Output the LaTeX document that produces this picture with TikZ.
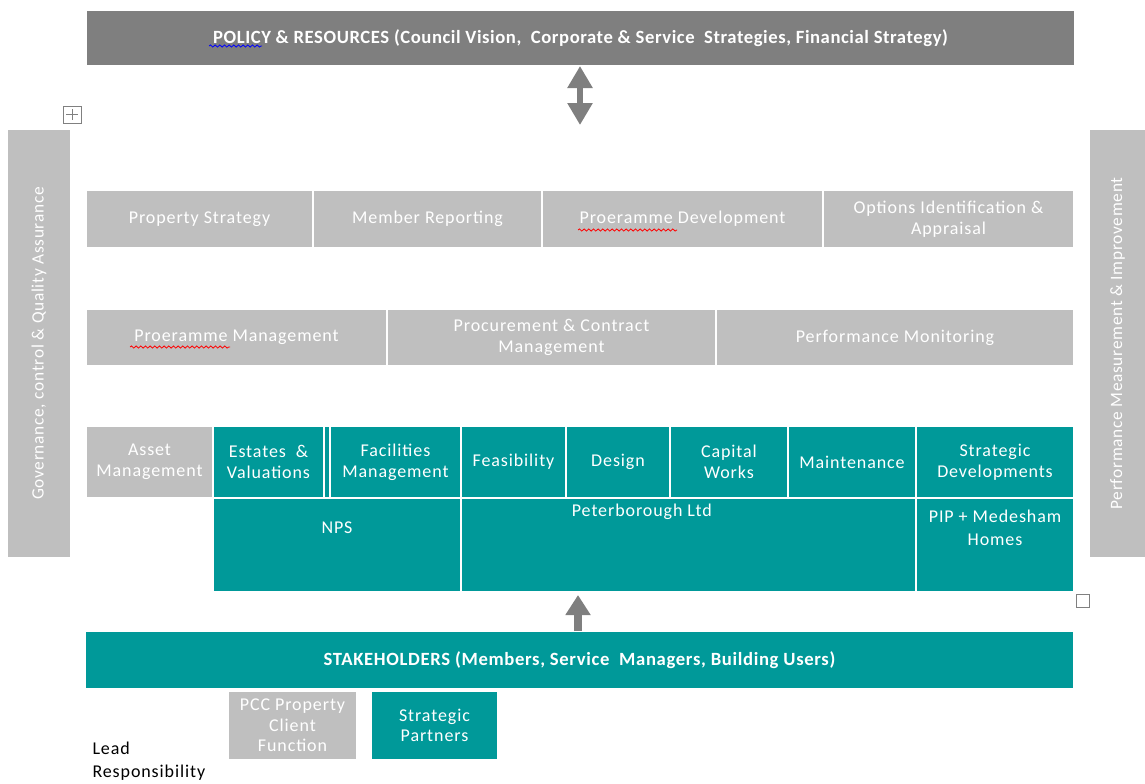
\documentclass[tikz,border=0pt]{standalone}
\usepackage{fontspec}
\setmainfont{Carlito}
\usetikzlibrary{arrows.meta,decorations.pathmorphing}

\definecolor{pteal}{HTML}{009999}
\definecolor{pgrey}{HTML}{BFBFBF}
\definecolor{pdark}{HTML}{7F7F7F}

\newcommand{\cellfont}{\fontsize{13.5}{15.5}\selectfont\addfontfeature{LetterSpace=5}}
\newcommand{\barfont}{\bfseries\fontsize{14}{16}\selectfont\addfontfeature{LetterSpace=3}}

\tikzset{every picture/.style={line width=0.75pt}}
\tikzset{
  cellg/.style={fill=pgrey, draw=white, line width=1.2pt, text=white, align=center,
    inner sep=0pt, outer sep=0pt, font=\cellfont},
  cellt/.style={cellg, fill=pteal},
  banner/.style={cellg, fill=pdark, font=\barfont},
  tealbanner/.style={cellg, fill=pteal, font=\bfseries\fontsize{14}{16}\selectfont\addfontfeature{LetterSpace=3.5}},
  sidebar/.style={cellg, draw=none, font=\fontsize{13}{15}\selectfont\addfontfeature{LetterSpace=4}},
  lbl/.style={text=white, align=center, inner sep=0pt, font=\fontsize{13.5}{17.5}\selectfont\addfontfeature{LetterSpace=5}},
  fatarrow/.style={draw=pdark, line width=4.5pt},
  squig/.style={decorate, decoration={snake, segment length=3.5pt, amplitude=0.8pt}, line width=0.6pt},
  handle/.style={draw=gray, line width=0.6pt, fill=white}
}

% box from (x1,y1) to (x2,y2): name, x1, y1, x2, y2, style, text
\newcommand{\rbox}[7]{\node[#6, minimum width={(#4-#2)*0.75}, minimum height={(#5-#3)*0.75}] (#1) at ({(#2+#4)/2},{(#3+#5)/2}) {#7};}

\begin{document}
\begin{tikzpicture}[x=0.75pt,y=0.75pt,yscale=-1,xscale=1]
        \useasboundingbox (0,0) rectangle (1145,783);

        %Top banner
        \rbox{policy}{86}{10}{1075}{66}{banner}{POLICY \& RESOURCES (Council Vision,\ \ Corporate \& Service\ \ Strategies, Financial Strategy)}
        \draw [squig, blue] (209,46) -- (262,46) ;

        %Double arrow
        \coordinate (dtip) at (580,125);
        \draw [fatarrow, {Triangle[length=16.5pt,width=18pt]}-{Triangle[length=16.5pt,width=18pt]}] (policy.south -| dtip) -- (dtip) ;

        %Side bars
        \rbox{gov}{8}{130}{70}{557}{sidebar}{\rotatebox{90}{Governance,\ control \& Quality Assurance}}
        \rbox{perf}{1090}{130}{1145}{557}{sidebar}{\rotatebox{90}{Performance Measurement \& Improvement}}

        %Row 1
        \rbox{propstrat}{86}{190}{313}{248}{cellg}{Property Strategy}
        \rbox{memrep}{313}{190}{542}{248}{cellg}{Member Reporting}
        \rbox{progdev}{542}{190}{823}{248}{cellg}{Proeramme Development}
        \rbox{options}{823}{190}{1074}{248}{cellg}{Options Identification \&\\Appraisal}
        \draw [squig, red] (578,230) -- (677,230) ;

        %Row 2
        \rbox{progman}{86}{309}{387}{366}{cellg}{Proeramme Management}
        \rbox{procure}{387}{309}{716}{366}{cellg}{Procurement \& Contract\\Management}
        \rbox{perfmon}{716}{309}{1074}{366}{cellg}{Performance Monitoring}
        \draw [squig, red] (130,347) -- (230,347) ;

        %Row 3
        \rbox{asset}{86}{426}{213}{498}{cellg}{Asset\\Management}
        \rbox{estates}{213}{426}{324}{498}{cellt}{Estates \ \&\\Valuations}
        \rbox{sliver}{324}{426}{330}{498}{cellt}{}
        \rbox{facil}{330}{426}{461}{498}{cellt}{Facilities\\Management}
        \rbox{feas}{461}{426}{566}{498}{cellt}{Feasibility}
        \rbox{design}{566}{426}{670}{498}{cellt}{Design}
        \rbox{capital}{670}{426}{788}{498}{cellt}{Capital\\Works}
        \rbox{maint}{788}{426}{916}{498}{cellt}{Maintenance}
        \rbox{stratdev}{916}{426}{1074}{498}{cellt}{Strategic\\Developments}

        %Row 4
        \rbox{nps}{213}{498}{461}{592}{cellt}{}
        \rbox{pet}{461}{498}{916}{592}{cellt}{}
        \rbox{pip}{916}{498}{1074}{592}{cellt}{}
        \node [lbl] (npslbl) at ([yshift=-13pt]nps.center) {NPS};
        \node [lbl] (petlbl) at ([xshift=-35pt,yshift=-25pt]pet.center) {Peterborough Ltd};
        \node [lbl] (piplbl) at ([yshift=-13pt]pip.center) {PIP + Medesham\\Homes};

        %Stakeholders
        \rbox{stake}{85}{631}{1074}{689}{tealbanner}{STAKEHOLDERS (Members, Service\ \ Managers, Building Users)}
        \coordinate (utip) at (578,595);
        \draw [fatarrow, line width=6pt, -{Triangle[length=15pt,width=18pt]}] (stake.north -| utip) -- (utip) ;

        %Lead responsibility
        \rbox{pcc}{228}{691}{357}{760}{cellg}{PCC Property\\Client\\Function}
        \rbox{partners}{371}{691}{498}{760}{cellt}{Strategic\\Partners}
        \node [anchor=north west, align=left, inner sep=0pt, font=\fontsize{13.5}{17.5}\selectfont\addfontfeature{LetterSpace=5}] (lead) at (92,741) {Lead\\Responsibility};

        %Table handles
        \draw [handle] (63,106) rectangle (81,123) ;
        \draw [gray, line width=0.5pt] (72,109) -- (72,120) (66,114.5) -- (78,114.5) ;
        \draw [handle] (1076,594) rectangle (1089,607) ;

\end{tikzpicture}
\end{document}
